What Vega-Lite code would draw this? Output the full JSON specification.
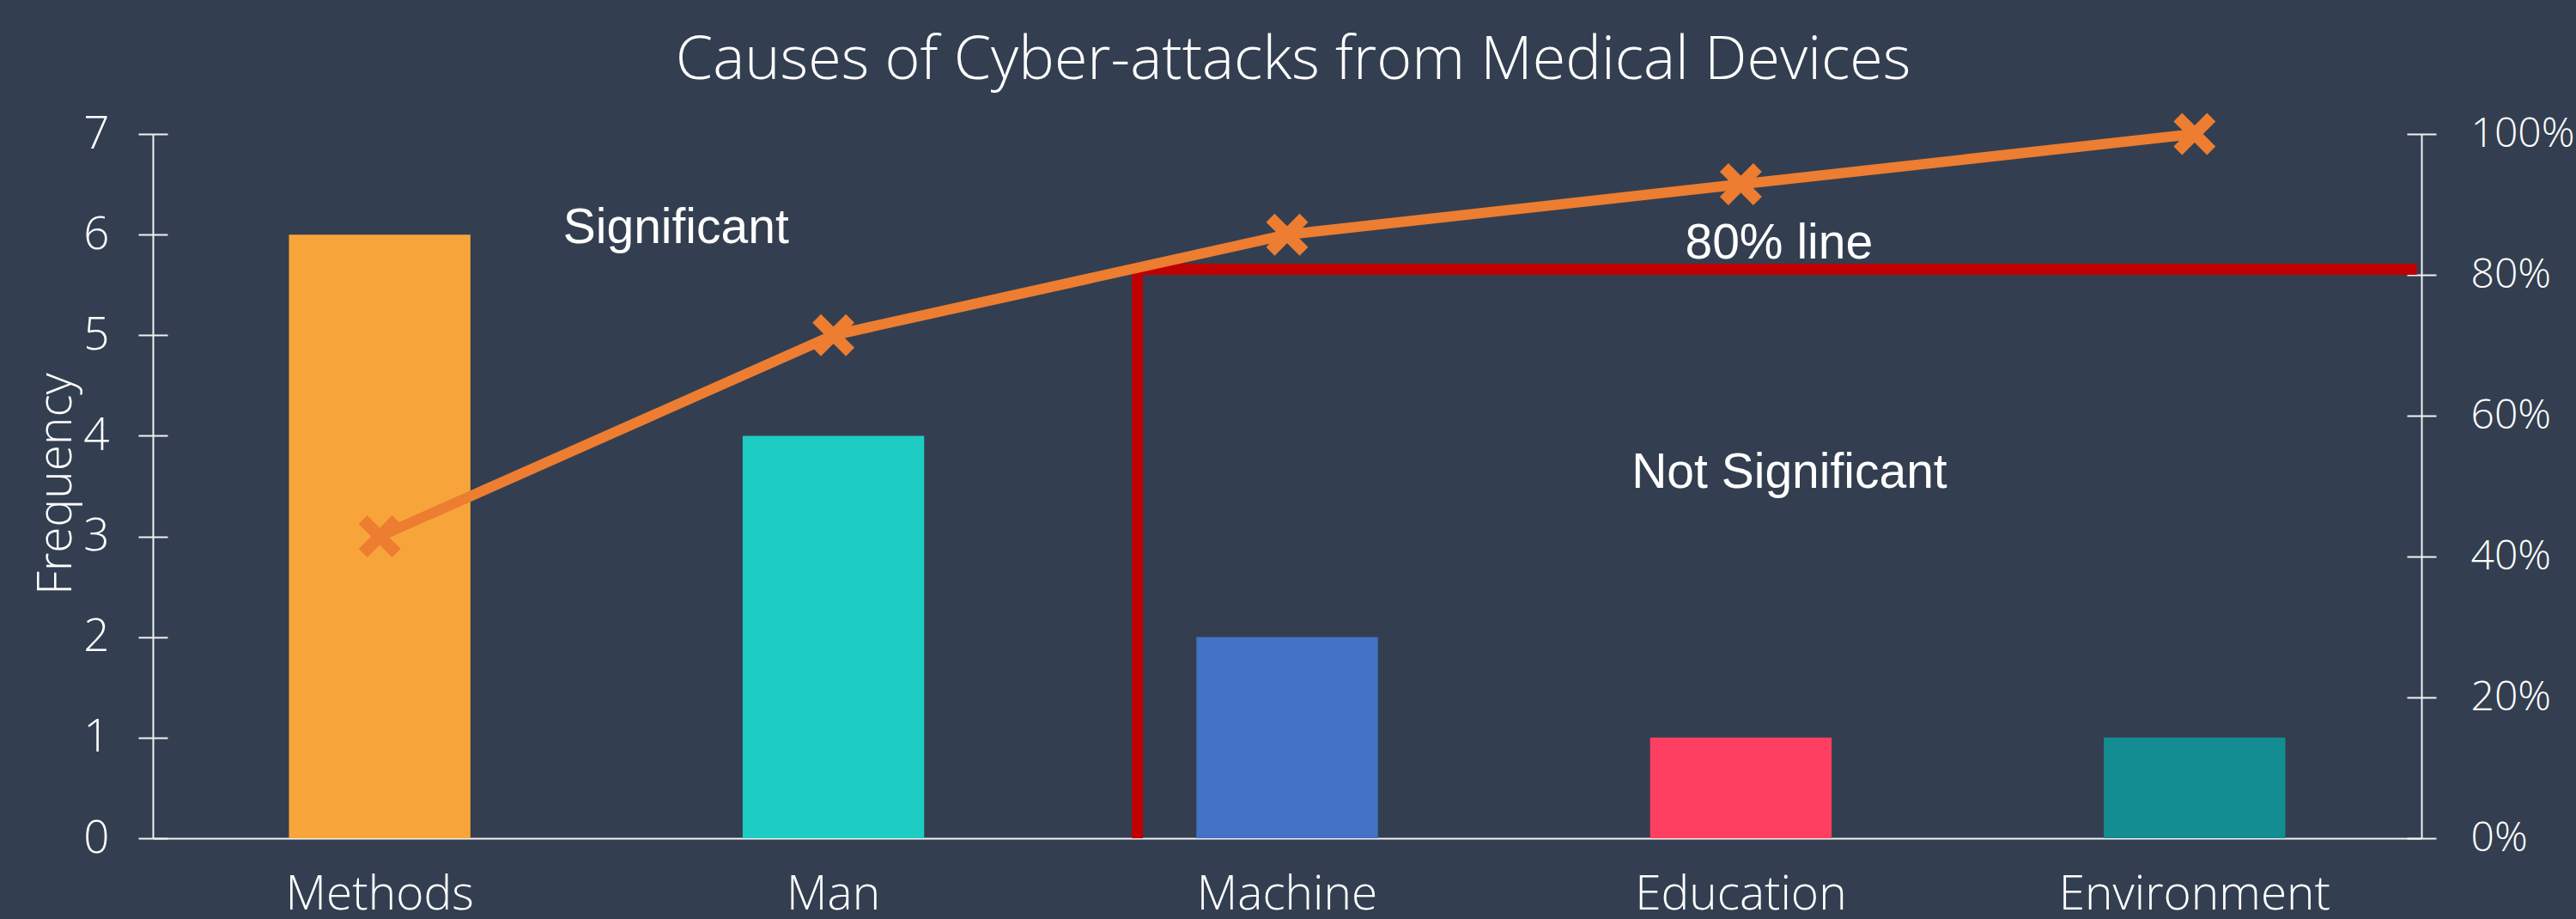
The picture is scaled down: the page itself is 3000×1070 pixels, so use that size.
{
  "$schema": "https://vega.github.io/schema/vega-lite/v6.json",
  "autosize": {"type": "none"},
  "padding": {"left": 178, "top": 156, "right": 180, "bottom": 94},
  "width": 2642,
  "height": 820,
  "background": "#333F50",
  "config": {
    "view": {"stroke": null},
    "axis": {"grid": false, "labelColor": "#FFFFFF", "titleColor": "#FFFFFF", "domainColor": "#F2F2F2", "tickColor": "#F2F2F2", "domainWidth": 2, "tickWidth": 2, "labelFont": "Open Sans", "labelFontWeight": 300, "titleFont": "Open Sans", "titleFontWeight": 300, "labelLimit": 0}
  },
  "title": {
    "text": "Causes of Cyber-attacks from Medical Devices",
    "font": "Open Sans",
    "fontWeight": 300,
    "fontSize": 70,
    "color": "#FFFFFF",
    "frame": "group",
    "anchor": "middle",
    "offset": 2,
    "dx": 7
  },
  "datasets": {
    "causes": [
      {"cause": "Methods", "count": 6, "cum": 0.4286},
      {"cause": "Man", "count": 4, "cum": 0.7143},
      {"cause": "Machine", "count": 2, "cum": 0.8571},
      {"cause": "Education", "count": 1, "cum": 0.9286},
      {"cause": "Environment", "count": 1, "cum": 1.0}
    ]
  },
  "resolve": {"scale": {"x": "independent", "y": "independent", "color": "independent"}},
  "layer": [
    {
      "data": {"name": "causes"},
      "mark": {"type": "bar"},
      "encoding": {
        "x": {
          "field": "cause", "type": "nominal",
          "sort": ["Methods", "Man", "Machine", "Education", "Environment"],
          "scale": {"paddingInner": 0.6, "paddingOuter": 0.3},
          "axis": {"orient": "bottom", "title": null, "ticks": false, "tickSize": 0, "labelPadding": 82, "labelBaseline": "alphabetic", "labelFontSize": 55, "labelAngle": 0}
        },
        "y": {
          "field": "count", "type": "quantitative",
          "scale": {"domain": [0, 7], "nice": false},
          "axis": {"orient": "left", "values": [0, 1, 2, 3, 4, 5, 6, 7], "tickSize": 17, "labelPadding": 34, "labelFontSize": 53, "title": "Frequency", "titleFontSize": 55, "titleX": -96, "titleY": 407, "titleAngle": -90, "titleBaseline": "alphabetic", "titleAlign": "center"}
        },
        "color": {
          "field": "cause", "type": "nominal",
          "scale": {"domain": ["Methods", "Man", "Machine", "Education", "Environment"], "range": ["#F7A53A", "#1DCDC3", "#4472C4", "#FF3F62", "#138D92"]},
          "legend": null
        }
      }
    },
    {
      "data": {"values": [{"from": 2.157, "to": 4.99, "level": 0.808}]},
      "mark": {"type": "rule", "color": "#C00000", "strokeWidth": 13},
      "encoding": {
        "x": {"field": "from", "type": "quantitative", "scale": {"domain": [0, 5], "nice": false, "zero": false}, "axis": null},
        "x2": {"field": "to"},
        "y": {"field": "level", "type": "quantitative", "scale": {"domain": [0, 1], "nice": false}, "axis": null}
      }
    },
    {
      "data": {"values": [{"at": 2.17, "bottom": 0, "top": 0.817}]},
      "mark": {"type": "rule", "color": "#C00000", "strokeWidth": 13},
      "encoding": {
        "x": {"field": "at", "type": "quantitative", "scale": {"domain": [0, 5], "nice": false, "zero": false}, "axis": null},
        "y": {"field": "bottom", "type": "quantitative", "scale": {"domain": [0, 1], "nice": false}, "axis": null},
        "y2": {"field": "top"}
      }
    },
    {
      "data": {"values": [
        {"label": "Significant", "px": 1.153, "py": 5.92},
        {"label": "80% line", "px": 3.584, "py": 5.765},
        {"label": "Not Significant", "px": 3.607, "py": 3.483}
      ]},
      "mark": {"type": "text", "font": "Liberation Sans", "fontSize": 57, "color": "#FFFFFF", "align": "center", "baseline": "alphabetic"},
      "encoding": {
        "x": {"field": "px", "type": "quantitative", "scale": {"domain": [0, 5], "nice": false, "zero": false}, "axis": null},
        "y": {"field": "py", "type": "quantitative", "scale": {"domain": [0, 7], "nice": false}, "axis": {"orient": "left", "offset": -17, "values": [0, 1, 2, 3, 4, 5, 6, 7], "tickSize": 17, "labels": false, "domain": false, "title": null}},
        "text": {"field": "label"}
      }
    },
    {
      "data": {"name": "causes"},
      "mark": {"type": "line", "color": "#ED7D31", "strokeWidth": 12},
      "encoding": {
        "x": {"field": "cause", "type": "nominal", "sort": ["Methods", "Man", "Machine", "Education", "Environment"], "axis": null},
        "y": {
          "field": "cum", "type": "quantitative",
          "scale": {"domain": [0, 1], "nice": false},
          "axis": {"orient": "right", "values": [0, 0.2, 0.4, 0.6, 0.8, 1], "format": ".0%", "tickSize": 17, "labelPadding": 40, "labelFontSize": 48, "title": null}
        }
      }
    },
    {
      "data": {"name": "causes"},
      "mark": {"type": "point", "shape": "M-1,-1L1,1M1,-1L-1,1", "filled": false, "stroke": "#ED7D31", "strokeWidth": 14, "size": 1521, "opacity": 1},
      "encoding": {
        "x": {"field": "cause", "type": "nominal", "sort": ["Methods", "Man", "Machine", "Education", "Environment"], "axis": null},
        "y": {
          "field": "cum", "type": "quantitative",
          "scale": {"domain": [0, 1], "nice": false},
          "axis": {"orient": "right", "offset": -17, "values": [0, 0.2, 0.4, 0.6, 0.8, 1], "tickSize": 17, "labels": false, "domain": false, "title": null}
        }
      }
    }
  ]
}
